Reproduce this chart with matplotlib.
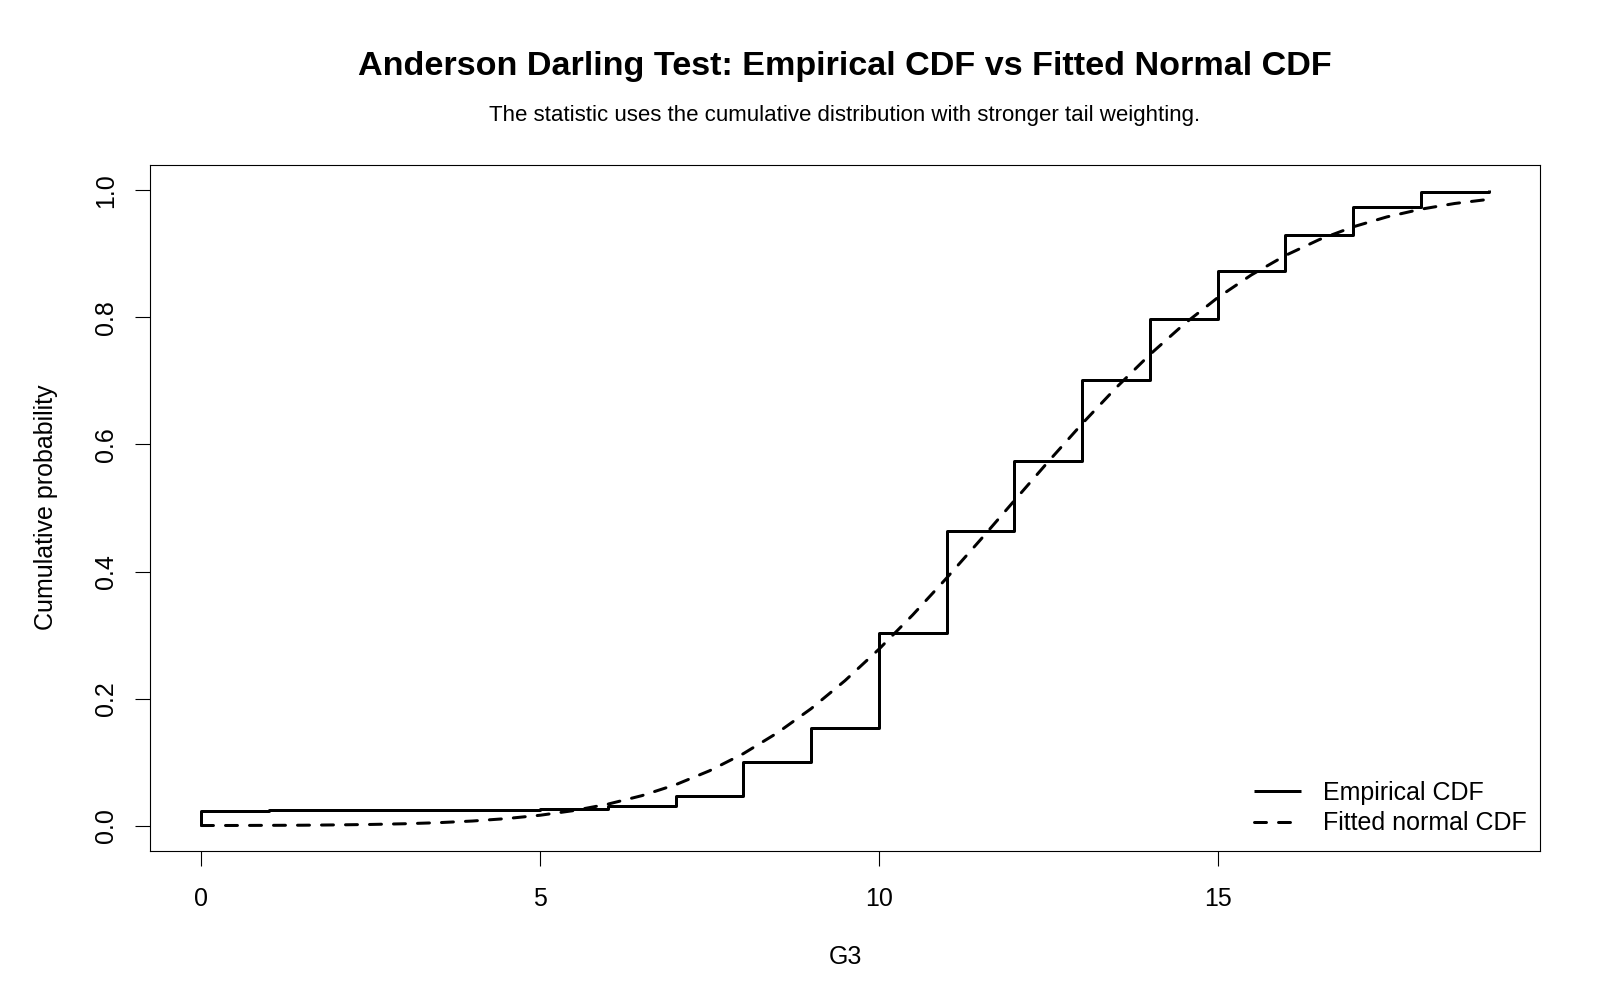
import matplotlib
matplotlib.use("Agg")
import matplotlib.pyplot as plt

plt.rcParams['font.family'] = ['Liberation Sans', 'DejaVu Sans']

# Empirical CDF of G3 (grade values and cumulative proportions)
grades = [0, 1, 5, 6, 7, 8, 9, 10, 11, 12, 13, 14, 15, 16, 17, 18, 19]
ecdf_values = [0.0231, 0.0247, 0.0262, 0.0308, 0.0462, 0.1002, 0.1541, 0.3035,
               0.4638, 0.5747, 0.7011, 0.7982, 0.8737, 0.9291, 0.9738, 0.9969, 1.0]

# Fitted normal CDF
fitted_x = [0, 0.5, 1, 1.5, 2, 2.5, 3, 3.5, 4, 4.5, 5, 5.5, 6, 6.5, 7, 7.5, 8, 8.5,
            9, 9.5, 10, 10.5, 11, 11.5, 12, 12.5, 13, 13.5, 14, 14.5, 15, 15.5,
            16, 16.5, 17, 17.5, 18, 18.5, 19]
fitted_cdf = [0.0001, 0.0002, 0.0004, 0.0006, 0.0011, 0.0018, 0.0029, 0.0046,
              0.0072, 0.0110, 0.0163, 0.0237, 0.0338, 0.0471, 0.0644, 0.0863,
              0.1133, 0.1459, 0.1841, 0.2282, 0.2776, 0.3317, 0.3897, 0.4500,
              0.5116, 0.5729, 0.6326, 0.6891, 0.7415, 0.7890, 0.8310, 0.8670,
              0.8975, 0.9225, 0.9426, 0.9583, 0.9704, 0.9794, 0.9859]

x_ticks = [0, 5, 10, 15]
y_ticks = [0.0, 0.2, 0.4, 0.6, 0.8, 1.0]
y_tick_labels = ["0.0", "0.2", "0.4", "0.6", "0.8", "1.0"]

title = "Anderson Darling Test: Empirical CDF vs Fitted Normal CDF"
subtitle = "The statistic uses the cumulative distribution with stronger tail weighting."

fig = plt.figure(figsize=(16, 10), dpi=100)
ax = fig.add_axes([150 / 1600, 1 - 851 / 1000, 1390 / 1600, 686 / 1000])

lw = 2.16
ax.plot([grades[0]] + grades, [0.0] + ecdf_values, drawstyle='steps-post',
        color='black', lw=lw, label='Empirical CDF', solid_capstyle='butt')
ax.plot(fitted_x, fitted_cdf, color='black', lw=lw, linestyle=(0, (4, 4)),
        dash_capstyle='round', label='Fitted normal CDF')

ax.set_xlim(-0.76, 19.76)
ax.set_ylim(-0.04, 1.04)
ax.set_xticks(x_ticks)
ax.set_xticklabels([str(v) for v in x_ticks])
ax.set_yticks(y_ticks)
ax.set_yticklabels(y_tick_labels, rotation=90, va='center', ha='right')

for s in ax.spines.values():
    s.set_linewidth(0.8)
    s.set_color('black')
ax.tick_params(axis='both', direction='out', length=10.8, width=0.8,
               labelsize=18, colors='black')
ax.tick_params(axis='x', pad=15)
ax.tick_params(axis='y', pad=12)

fig.text(845 / 1600, 1 - 66 / 1000, title, ha='center', va='center',
         fontsize=24.6, fontweight='bold')
fig.text(845 / 1600, 1 - 115 / 1000, subtitle, ha='center', va='center',
         fontsize=16)
fig.text(845 / 1600, 1 - 957 / 1000, "G3", ha='center', va='center', fontsize=18)
fig.text(46 / 1600, 1 - 507 / 1000, "Cumulative probability", ha='center',
         va='center', rotation=90, fontsize=18)

leg = ax.legend(loc='upper left', bbox_to_anchor=(1254 / 1600, 1 - 781 / 1000),
                bbox_transform=fig.transFigure, frameon=False, fontsize=18,
                handlelength=1.88, handletextpad=0.88, borderpad=0,
                borderaxespad=0, labelspacing=0.25)

fig.savefig("out.png", dpi=100, facecolor='white')
